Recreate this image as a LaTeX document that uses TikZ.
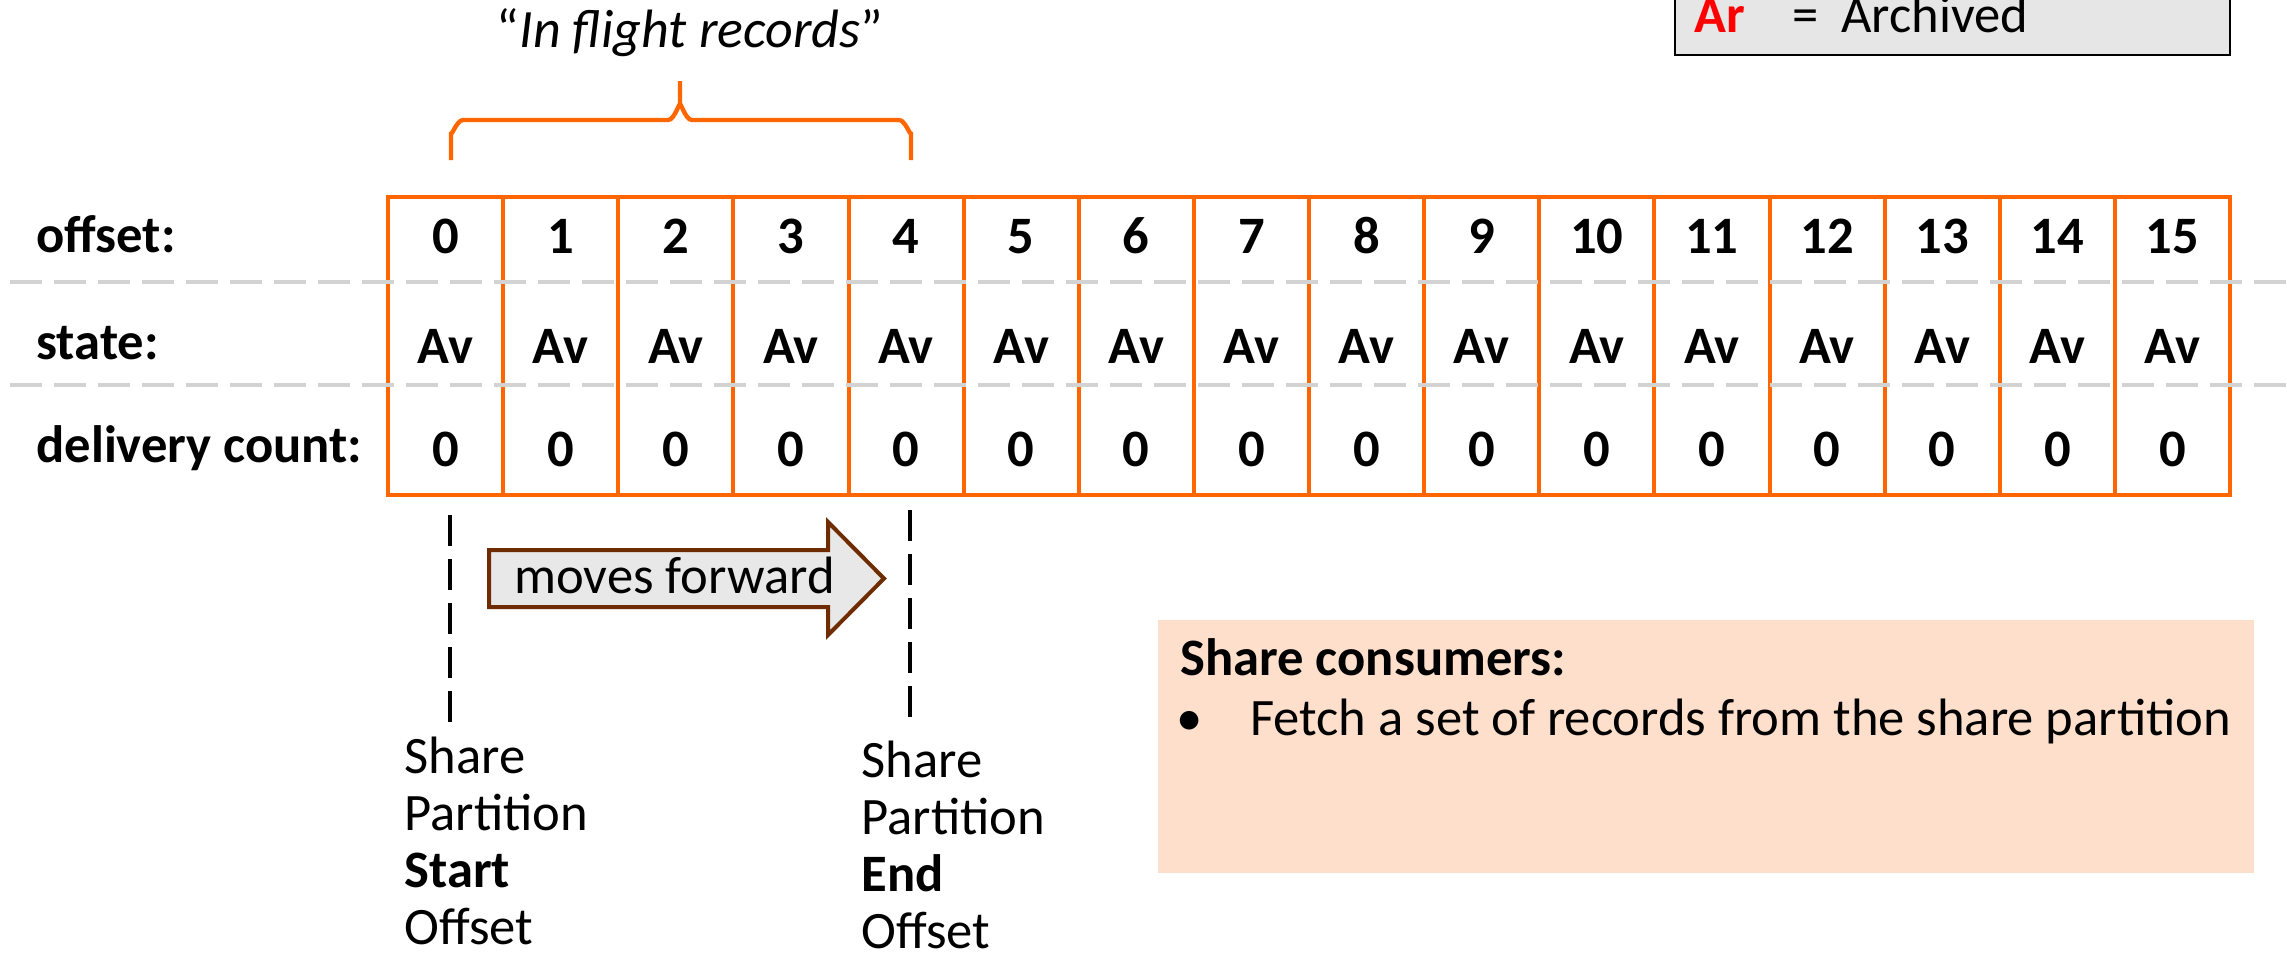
\documentclass[tikz,border=0pt]{standalone}
\usepackage{fontspec}
\setmainfont{Carlito}
\definecolor{ingorange}{HTML}{FF6600}
\definecolor{dashgray}{HTML}{D3D3D3}
\definecolor{legendgray}{HTML}{E6E6E6}
\definecolor{peach}{HTML}{FDDFCC}
\definecolor{arrowbrown}{HTML}{6E2C00}
\definecolor{arrowfill}{HTML}{E8E8E8}
\definecolor{legendred}{HTML}{FF0000}
\newcommand\diagfont{\fontsize{26.3}{28.5}\selectfont}
\newcommand\titlefont{\fontsize{27}{30}\selectfont}
\begin{document}
\begin{tikzpicture}[x=0.5pt,y=-0.5pt,
  font=\diagfont,
  colbox/.style={draw=ingorange, line width=2pt, minimum width=57.56pt, minimum height=149pt, inner sep=0pt},
  celltext/.style={anchor=base, inner sep=0pt, font=\diagfont\bfseries},
  rowlabel/.style={anchor=base west, inner sep=0pt, font=\diagfont\bfseries},
  plaintext/.style={anchor=base west, inner sep=0pt, font=\diagfont},
  rowsep/.style={draw=dashgray, line width=1.8pt, dash pattern=on 16pt off 6pt},
  marker/.style={draw=black, line width=2pt, dash pattern=on 15.5pt off 6.5pt},
  bracestyle/.style={draw=ingorange, line width=2.2pt},
  movearrow/.style={fill=arrowfill, draw=arrowbrown, line width=2pt},
  offlabel/.style={anchor=north west, align=left, inner sep=0pt, font=\diagfont}]
\useasboundingbox (0,0) rectangle (2287,954);

% legend
\draw[fill=legendgray, draw=black, line width=0.9pt] (1675,-20) rectangle (2230,55);
\node[anchor=base west, inner sep=0pt, font=\diagfont\bfseries, text=legendred] (arkey) at (1694,32) {Ar};
\node[plaintext] (areq) at (1792,32) {=};
\node[plaintext] (arval) at (1841,32) {Archived};

% title and brace
\node[anchor=base, inner sep=0pt, font=\titlefont] (title) at (690,47) {“\textit{In flight records}”};
\draw[bracestyle] (451,160) -- (451,132) to[out=-90,in=180] (463,120) -- (668,120)
  to[out=0,in=90] (680,106) -- (680,81) -- (680,106) to[out=90,in=180] (692,120)
  -- (899,120) to[out=0,in=-90] (911,132) -- (911,160);

% row labels
\node[rowlabel] (lbloff) at (36,252) {offset:};
\node[rowlabel] (lblst) at (36,359) {state:};
\node[rowlabel] (lbldc) at (36,462) {delivery count:};

% columns
\foreach \i in {0,...,15} {
  \pgfmathsetmacro\cx{388+(\i+0.5)*115.125}
  \node[colbox] (col\i) at (\cx,346) {};
  \node[celltext] (off\i) at (\cx,253) {\i};
  \node[celltext] (st\i) at (\cx,363) {Av};
  \node[celltext] (dc\i) at (\cx,466) {0};
}

% row separators
\draw[rowsep] (10,282) -- (2287,282);
\draw[rowsep] (10,385) -- (2287,385);

% start / end markers
\coordinate (sTop) at (450,515);
\coordinate (sBot) at (450,722);
\coordinate (eTop) at (910,510);
\coordinate (eBot) at (910,718);
\draw[marker] (sTop) -- (sBot);
\draw[marker] (eTop) -- (eBot);

% moves forward arrow
\draw[movearrow] (489,550) -- (828,550) -- (828,522) -- (884,578.5) -- (828,635) -- (828,607) -- (489,607) -- cycle;
\node[plaintext] (mf) at (514,593) {moves forward};

% offset labels
\node[offlabel] (startlbl) at (404,737) {Share\\Partition\\\textbf{Start}\\Offset};
\node[offlabel] (endlbl) at (861,741) {Share\\Partition\\\textbf{End}\\Offset};

% share consumers box
\node[fill=peach, minimum width=548pt, minimum height=126.5pt, inner sep=0pt, anchor=north west] (scbox) at (1158,620) {};
\node[rowlabel] (sctitle) at (1180,675) {Share consumers:};
\node[plaintext] (bullet) at (1176,735) {•};
\node[plaintext] (fetch) at (1250,735) {Fetch a set of records from the share partition};
\end{tikzpicture}
\end{document}
